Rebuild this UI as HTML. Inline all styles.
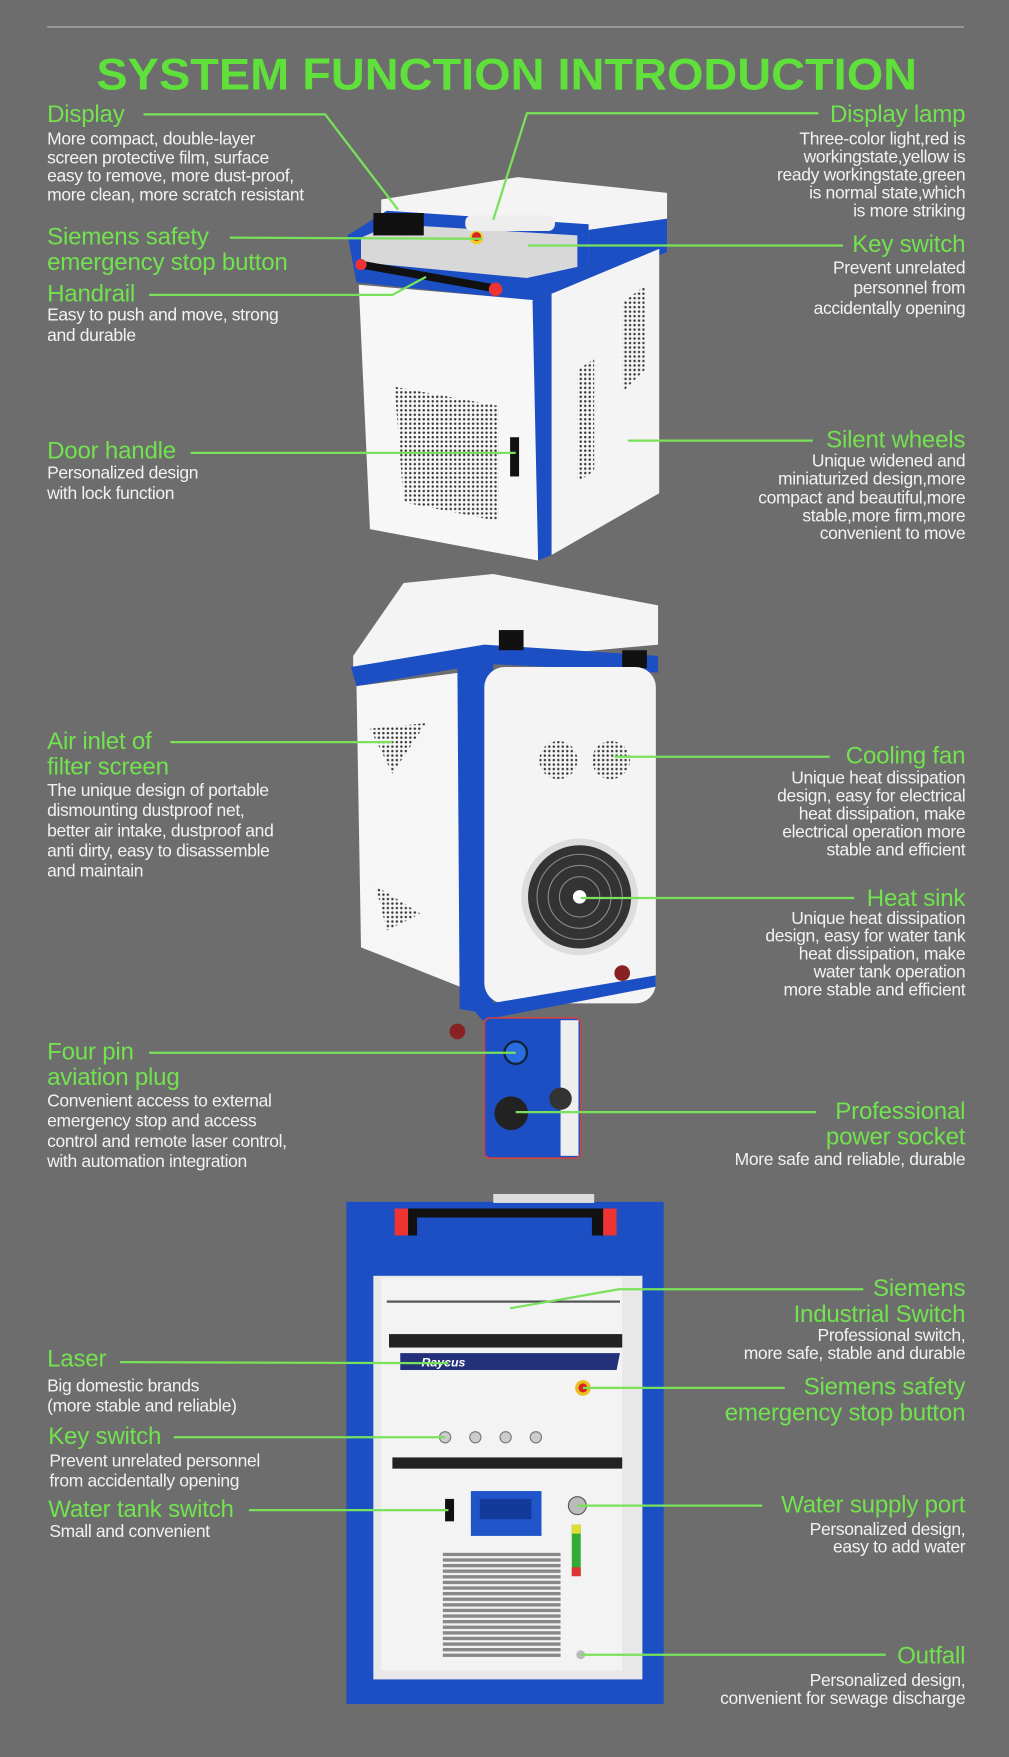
<!DOCTYPE html>
<html><head><meta charset="utf-8"><style>
html,body{margin:0;padding:0;background:#6d6d6d;}
#w{width:1009px;height:1757px;overflow:hidden;position:relative;background:#6d6d6d;}
#c{position:absolute;left:0;top:0;width:900px;height:1568px;transform:scale(1.1211);transform-origin:0 0;font-family:"Liberation Sans",sans-serif;}
.t{position:absolute;white-space:nowrap;}
.g{color:#72e24e;font-size:21.5px;line-height:23px;letter-spacing:-0.2px;}
.b{color:#f2f2f2;font-size:15.6px;line-height:16.5px;letter-spacing:-0.3px;}
.r{text-align:right;right:39px;}
.l{left:42px;}
</style></head><body><div id="w"><div id="c">
<svg width="900" height="1568" style="position:absolute;left:0;top:0">
<defs>
<pattern id="dots" width="4" height="4" patternUnits="userSpaceOnUse"><circle cx="2" cy="2" r="1.1" fill="#333"/></pattern>
<pattern id="grill" width="4" height="5" patternUnits="userSpaceOnUse"><rect width="4" height="3" fill="#888"/></pattern>
</defs>
<line x1="42" y1="24" x2="860" y2="24" stroke="#aaa" stroke-width="1.2"/>
<!-- machine 1 -->
<polygon points="340,178 462,158 595,172 595,225 525,230 525,205 340,195" fill="#f4f4f4"/>
<polygon points="310,210 345,188 525,200 525,250 475,268 318,252" fill="#1d4fc4"/>
<polygon points="322,212 350,200 515,210 515,238 470,248 322,234" fill="#d8d8d8"/>
<rect x="333" y="190" width="45" height="20" fill="#111"/>
<rect x="415" y="192" width="80" height="14" rx="6" fill="#eee"/>
<circle cx="425" cy="212" r="6" fill="#e8d020"/><circle cx="425" cy="211" r="4" fill="#d22"/>
<line x1="322" y1="236" x2="440" y2="257" stroke="#111" stroke-width="7"/>
<circle cx="322" cy="236" r="5" fill="#e33"/><circle cx="442" cy="258" r="6" fill="#e33"/>
<polygon points="320,254 480,268 480,500 330,472" fill="#f7f7f7"/>
<polygon points="475,268 492,262 492,495 480,500" fill="#1d4fc4"/>
<polygon points="525,205 595,195 595,225 525,250" fill="#1d4fc4"/>
<polygon points="492,262 588,222 588,440 492,495" fill="#f4f4f4"/>
<polygon points="352,345 445,362 445,465 360,448" fill="url(#dots)"/>
<polygon points="555,270 575,255 575,330 555,350" fill="url(#dots)"/>
<polygon points="515,330 530,320 530,420 515,430" fill="url(#dots)"/>
<rect x="455" y="390" width="8" height="35" fill="#111"/>
<!-- machine 2 -->
<polygon points="315,585 360,520 440,512 587,540 587,575 315,600" fill="#f4f4f4"/>
<polygon points="313,595 432,575 587,585 587,600 432,592 318,612" fill="#1d4fc4"/>
<rect x="445" y="562" width="22" height="18" fill="#111"/><rect x="555" y="580" width="22" height="16" fill="#111"/>
<polygon points="318,612 410,600 410,880 322,845" fill="#f6f6f6"/>
<polygon points="330,650 380,645 350,690" fill="url(#dots)"/>
<polygon points="335,790 375,815 345,830" fill="url(#dots)"/>
<polygon points="408,595 440,590 440,905 410,900" fill="#1d4fc4"/>
<rect x="432" y="595" width="153" height="300" rx="18" fill="#f4f4f4"/>
<polygon points="420,898 585,870 585,880 430,910" fill="#1d4fc4"/>
<circle cx="498" cy="678" r="17" fill="url(#dots)"/><circle cx="545" cy="678" r="17" fill="url(#dots)"/>
<circle cx="517" cy="800" r="52" fill="#ddd"/><circle cx="517" cy="800" r="46" fill="#333"/>
<circle cx="517" cy="800" r="38" fill="none" stroke="#888" stroke-width="1"/>
<circle cx="517" cy="800" r="28" fill="none" stroke="#888" stroke-width="1"/>
<circle cx="517" cy="800" r="18" fill="none" stroke="#888" stroke-width="1"/>
<circle cx="517" cy="800" r="6" fill="#fff"/>
<circle cx="408" cy="920" r="7" fill="#822"/><circle cx="555" cy="868" r="7" fill="#822"/>
<!-- plug -->
<rect x="432" y="908" width="86" height="125" rx="5" fill="#1d4fc4" stroke="#c44" stroke-width="1.5"/>
<rect x="500" y="910" width="16" height="121" fill="#eee"/>
<circle cx="460" cy="939" r="10" fill="#2a6de0" stroke="#123" stroke-width="2"/>
<circle cx="456" cy="993" r="15" fill="#222"/><circle cx="500" cy="980" r="10" fill="#333"/>
<!-- machine 3 -->
<rect x="309" y="1072" width="283" height="448" fill="#1d4fc4"/>
<rect x="440" y="1065" width="90" height="8" fill="#ddd"/>
<rect x="352" y="1078" width="198" height="24" rx="10" fill="#111"/>
<rect x="352" y="1078" width="12" height="24" fill="#e33"/><rect x="538" y="1078" width="12" height="24" fill="#e33"/>
<rect x="372" y="1086" width="156" height="16" fill="#1d4fc4"/>
<rect x="333" y="1138" width="240" height="360" fill="#e8e8e8"/>
<rect x="340" y="1140" width="215" height="350" fill="#f3f3f3"/>
<rect x="345" y="1160" width="208" height="2" fill="#555"/>
<rect x="347" y="1190" width="208" height="12" fill="#222"/>
<polygon points="357,1207 553,1207 550,1222 357,1222" fill="#23307a"/>
<text x="376" y="1219" font-family="Liberation Sans" font-style="italic" font-weight="bold" font-size="11" fill="#fff">Raycus</text>
<circle cx="520" cy="1238" r="7" fill="#e8c020"/><circle cx="520" cy="1238" r="4" fill="#d22"/>
<g fill="#ccc" stroke="#777"><circle cx="397" cy="1282" r="5"/><circle cx="424" cy="1282" r="5"/><circle cx="451" cy="1282" r="5"/><circle cx="478" cy="1282" r="5"/></g>
<rect x="350" y="1300" width="205" height="10" fill="#222"/>
<rect x="397" y="1337" width="8" height="20" fill="#111"/>
<rect x="420" y="1330" width="63" height="40" fill="#1f55c8"/><rect x="428" y="1337" width="46" height="18" fill="#123a9a"/>
<circle cx="515" cy="1343" r="8" fill="#bbb" stroke="#555"/>
<rect x="510" y="1360" width="8" height="45" fill="#3a3"/><rect x="510" y="1360" width="8" height="8" fill="#dd3"/><rect x="510" y="1398" width="8" height="8" fill="#d33"/>
<rect x="395" y="1385" width="105" height="93" fill="url(#grill)"/>
<circle cx="518" cy="1476" r="4" fill="#bbb"/>
<!-- connectors -->
<g stroke="#78e25a" stroke-width="2" fill="none">
<polyline points="128,102 290,102 355,187"/>
<polyline points="730,101 470,101 440,196"/>
<polyline points="205,212 430,213"/>
<polyline points="752,219 471,219"/>
<polyline points="133,263 350,263 380,247"/>
<polyline points="170,404 460,404"/>
<polyline points="725,393 560,393"/>
<polyline points="152,662 350,662"/>
<polyline points="740,675 548,675"/>
<polyline points="762,801 518,801"/>
<polyline points="133,939 460,939"/>
<polyline points="728,992 460,992"/>
<polyline points="770,1150 552,1150 455,1167"/>
<polyline points="107,1215 400,1216"/>
<polyline points="700,1238 520,1238"/>
<polyline points="155,1282 397,1282"/>
<polyline points="222,1347 400,1347"/>
<polyline points="680,1343 515,1343"/>
<polyline points="790,1476 518,1476"/>
</g>
<text x="452" y="80" text-anchor="middle" font-family="Liberation Sans" font-weight="bold" font-size="40" fill="#5fe03a" textLength="732" lengthAdjust="spacingAndGlyphs">SYSTEM FUNCTION INTRODUCTION</text>
</svg>
<div class="t g l" style="top:91px">Display</div>
<div class="t b l" style="top:117px">More compact, double-layer<br>screen protective film, surface<br>easy to remove, more dust-proof,<br>more clean, more scratch resistant</div>
<div class="t g r" style="top:91px">Display lamp</div>
<div class="t b r" style="top:117px;line-height:16px">Three-color light,red is<br>workingstate,yellow is<br>ready workingstate,green<br>is normal state,which<br>is more striking</div>
<div class="t g l" style="top:200px">Siemens safety<br>emergency stop button</div>
<div class="t g r" style="top:207px">Key switch</div>
<div class="t b r" style="top:231px;line-height:18px">Prevent unrelated<br>personnel from<br>accidentally opening</div>
<div class="t g l" style="top:251px">Handrail</div>
<div class="t b l" style="top:273px;line-height:18px">Easy to push and move, strong<br>and durable</div>
<div class="t g l" style="top:391px">Door handle</div>
<div class="t b l" style="top:414px;line-height:18px">Personalized design<br>with lock function</div>
<div class="t g r" style="top:381px">Silent wheels</div>
<div class="t b r" style="top:404px;line-height:16.3px">Unique widened and<br>miniaturized design,more<br>compact and beautiful,more<br>stable,more firm,more<br>convenient to move</div>
<div class="t g l" style="top:650px">Air inlet of<br>filter screen</div>
<div class="t b l" style="top:697px;line-height:18px">The unique design of portable<br>dismounting dustproof net,<br>better air intake, dustproof and<br>anti dirty, easy to disassemble<br>and maintain</div>
<div class="t g r" style="top:663px">Cooling fan</div>
<div class="t b r" style="top:687px;line-height:16px">Unique heat dissipation<br>design, easy for electrical<br>heat dissipation, make<br>electrical operation more<br>stable and efficient</div>
<div class="t g r" style="top:790px">Heat sink</div>
<div class="t b r" style="top:812px;line-height:16px">Unique heat dissipation<br>design, easy for water tank<br>heat dissipation, make<br>water tank operation<br>more stable and efficient</div>
<div class="t g l" style="top:927px">Four pin<br>aviation plug</div>
<div class="t b l" style="top:974px;line-height:18px">Convenient access to external<br>emergency stop and access<br>control and remote laser control,<br>with automation integration</div>
<div class="t g r" style="top:980px">Professional<br>power socket</div>
<div class="t b r" style="top:1027px">More safe and reliable, durable</div>
<div class="t g r" style="top:1138px">Siemens<br>Industrial Switch</div>
<div class="t b r" style="top:1184px;line-height:16px">Professional switch,<br>more safe, stable and durable</div>
<div class="t g l" style="top:1201px">Laser</div>
<div class="t b l" style="top:1228px;line-height:18px">Big domestic brands<br>(more stable and reliable)</div>
<div class="t g r" style="top:1226px">Siemens safety<br>emergency stop button</div>
<div class="t g l" style="top:1270px;left:43px">Key switch</div>
<div class="t b l" style="top:1295px;left:44px;line-height:18px">Prevent unrelated personnel<br>from accidentally opening</div>
<div class="t g l" style="top:1335px;left:43px">Water tank switch</div>
<div class="t b l" style="top:1359px;left:44px">Small and convenient</div>
<div class="t g r" style="top:1331px">Water supply port</div>
<div class="t b r" style="top:1357px;line-height:16px">Personalized design,<br>easy to add water</div>
<div class="t g r" style="top:1466px">Outfall</div>
<div class="t b r" style="top:1492px;line-height:16px">Personalized design,<br>convenient for sewage discharge</div>
</div></div></body></html>
